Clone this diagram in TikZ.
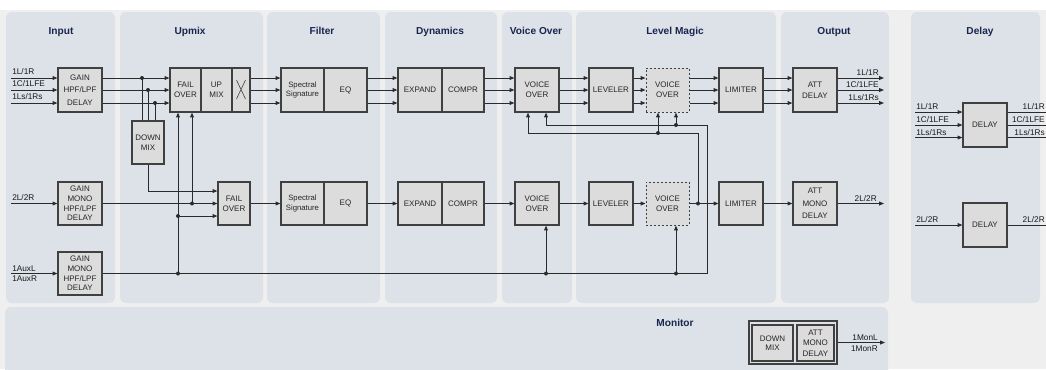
\documentclass[tikz,border=0pt]{standalone}
\usepackage{fontspec}
\setmainfont{Liberation Sans}
\usetikzlibrary{arrows.meta}
\definecolor{bgc}{HTML}{EFEFEF}
\definecolor{panelc}{HTML}{DDE1E8}
\definecolor{blkc}{HTML}{DCDCDC}
\definecolor{ttlc}{HTML}{18264F}
\definecolor{lnc}{HTML}{2A2A2A}
\definecolor{brdc}{HTML}{404040}
\tikzset{
 panel/.style={fill=panelc, rounded corners=4.5pt},
 ttl/.style={font=\fontsize{7.6}{9}\selectfont\bfseries, text=ttlc, inner sep=0pt, anchor=base},
 blk/.style={draw=brdc, fill=blkc, line width=0.85pt, inner sep=0pt, align=center, text=black!85, font=\fontsize{6}{7.2}\selectfont},
 bx/.style 2 args={blk, minimum width=#1*0.75pt, minimum height=#2*0.75pt},
 dsh/.style={dash pattern=on 1.6pt off 1.4pt, line width=0.75pt},
 lbl/.style={font=\fontsize{6.2}{7}\selectfont, inner sep=0pt, text=black!90},
 wire/.style={draw=lnc, line width=0.7pt},
 arr/.style={wire, -{Triangle[length=3.6pt,width=2.8pt]}},
 dot/.style={circle, fill=lnc, inner sep=0pt, minimum size=3pt},
}
\begin{document}
\begin{tikzpicture}[x=0.75pt,y=-0.75pt]
\useasboundingbox (0,0) rectangle (1046,369);
\clip (0,0) rectangle (1046,369);
\fill[white] (0,0) rectangle (1046,369);
\fill[bgc] (0,10) rectangle (1046,369);
% panels
\foreach \a/\b/\c/\d in {6/12/115/303, 120/12/263/303, 267/12/380/303, 385/12/497/303, 502/12/572/303, 576/12/776/303, 781/12/889/303, 911/12/1040/303, 5/307/888/380}
  \fill[panel] (\a,\b) rectangle (\c,\d);
% titles
\node[ttl] (tin) at (61,34) {Input};
\node[ttl] (tup) at (190,34) {Upmix};
\node[ttl] (tfi) at (322,34) {Filter};
\node[ttl] (tdy) at (440,34) {Dynamics};
\node[ttl] (tvo) at (536,34) {Voice Over};
\node[ttl] (tlm) at (675,34) {Level Magic};
\node[ttl] (tou) at (834,34) {Output};
\node[ttl] (tde) at (980,34) {Delay};
\node[ttl] (tmo) at (675,326) {Monitor};
% rows
\coordinate (r1) at (0,78); \coordinate (r2) at (0,90); \coordinate (r3) at (0,103);
\coordinate (s1) at (0,191); \coordinate (s2) at (0,203.5); \coordinate (s3) at (0,216);
% Input
\node[bx={44}{44}] (gin1) at (80,90) {GAIN\\[2.2pt]HPF/LPF\\[2.2pt]DELAY};
\node[bx={44}{43}] (gin2) at (80,203.5) {GAIN\\MONO\\HPF/LPF\\DELAY};
\node[bx={44}{43}] (gin3) at (80,273.5) {GAIN\\MONO\\HPF/LPF\\DELAY};
% Upmix
\node[bx={31}{44}] (fo1) at (185.5,90) {FAIL\\OVER};
\node[bx={31}{44}] (um1) at (216.5,90) {UP\\MIX};
\node[bx={18}{44}] (xx1) at (241,90) {};
\draw[brdc, line width=0.45pt] (236.5,80) -- (245.5,99) (245.5,80) -- (236.5,99);
\node[bx={32}{43}] (dm1) at (148,142.5) {DOWN\\MIX};
\node[bx={32}{43}] (fo2) at (234,203.5) {FAIL\\OVER};
% Filter
\node[bx={43}{44}, font=\fontsize{5.8}{7}\selectfont] (ss1) at (302.5,90) {Spectral\\Signature};
\node[bx={43}{44}] (eq1) at (345.5,90) {EQ};
\node[bx={43}{43}, font=\fontsize{5.8}{7}\selectfont] (ss2) at (302.5,203.5) {Spectral\\Signature};
\node[bx={43}{43}] (eq2) at (345.5,203.5) {EQ};
% Dynamics
\node[bx={44}{44}] (ex1) at (420,90) {EXPAND};
\node[bx={42}{44}] (cp1) at (463,90) {COMPR};
\node[bx={44}{43}] (ex2) at (420,203.5) {EXPAND};
\node[bx={42}{43}] (cp2) at (463,203.5) {COMPR};
% Voice over
\node[bx={44}{44}] (vo1) at (537,90) {VOICE\\[0.4pt]OVER};
\node[bx={44}{43}] (vo2) at (537,203.5) {VOICE\\[0.4pt]OVER};
% Level magic
\node[bx={44}{44}] (lv1) at (611,90) {LEVELER};
\node[bx={44}{43}] (lv2) at (611,203.5) {LEVELER};
\node[bx={43}{44}, dsh] (dv1) at (667.5,90) {VOICE\\[0.4pt]OVER};
\node[bx={43}{43}, dsh] (dv2) at (667.5,203.5) {VOICE\\[0.4pt]OVER};
\node[bx={44}{44}] (lm1) at (741,90) {LIMITER};
\node[bx={44}{43}] (lm2) at (741,203.5) {LIMITER};
% Output
\node[bx={44}{44}] (at1) at (815,90) {ATT\\[1pt]DELAY};
\node[bx={44}{43}] (at2) at (815,203.5) {ATT\\[2pt]MONO\\[2pt]DELAY};
% Delay
\node[bx={44}{44}] (dl1) at (985,125) {DELAY};
\node[bx={44}{44}] (dl2) at (985,225) {DELAY};
% Monitor
\node[bx={88}{43}, fill=panelc] (mon) at (793,342.5) {};
\node[bx={41}{36}] (mdm) at (772.5,343) {DOWN\\MIX};
\node[bx={37}{36}] (mat) at (815.5,343) {ATT\\[0.5pt]MONO\\[0.5pt]DELAY};

% main row connectors
\foreach \a/\b in {gin1/fo1, xx1/ss1, eq1/ex1, cp1/vo1, vo1/lv1, lv1/dv1, dv1/lm1, lm1/at1}
  \foreach \r in {r1,r2,r3}
    \draw[arr] (\a.east |- \r) -- (\b.west |- \r);
\foreach \a/\b in {gin2/fo2, fo2/ss2, eq2/ex2, cp2/vo2, vo2/lv2, lv2/dv2, dv2/lm2, lm2/at2}
  \draw[arr] (\a.east) -- (\b.west);

% inputs
\coordinate (i1) at (11,78); \coordinate (i2) at (11,90); \coordinate (i3) at (11,103);
\coordinate (i4) at (11,203.5); \coordinate (i5) at (11,273.5);
\draw[arr] (i1) -- (gin1.west |- i1);
\draw[arr] (i2) -- (gin1.west |- i2);
\draw[arr] (i3) -- (gin1.west |- i3);
\draw[arr] (i4) -- (gin2.west);
\draw[arr] (i5) -- (gin3.west);
\node[lbl, anchor=base west] (li1) at (12,74.5) {1L/1R};
\node[lbl, anchor=base west] (li2) at (12,86.5) {1C/1LFE};
\node[lbl, anchor=base west] (li3) at (12,99.5) {1Ls/1Rs};
\node[lbl, anchor=base west] (li4) at (12,200) {2L/2R};
\node[lbl, anchor=base west] (li5) at (12,271) {1AuxL};
\node[lbl, anchor=base west] (li6) at (12,281) {1AuxR};

% outputs
\coordinate (o1) at (884,78); \coordinate (o2) at (884,90); \coordinate (o3) at (884,103);
\coordinate (o4) at (884,203.5);
\draw[arr] (at1.east |- o1) -- (o1);
\draw[arr] (at1.east |- o2) -- (o2);
\draw[arr] (at1.east |- o3) -- (o3);
\draw[arr] (at2.east) -- (o4);
\node[lbl, anchor=base east] (lo1) at (879,75.5) {1L/1R};
\node[lbl, anchor=base east] (lo2) at (879,87.5) {1C/1LFE};
\node[lbl, anchor=base east] (lo3) at (879,100.5) {1Ls/1Rs};
\node[lbl, anchor=base east] (lo4) at (877,201) {2L/2R};

% upmix junctions
\node[dot] (j1) at (142,78) {};
\node[dot] (j2) at (148,90) {};
\node[dot] (j3) at (155,103) {};
\draw[wire] (j1.center) -- (j1 |- dm1.north);
\draw[wire] (j2.center) -- (j2 |- dm1.north);
\draw[wire] (j3.center) -- (j3 |- dm1.north);
\draw[arr] (dm1.south) |- (fo2.west |- s1);
\node[dot] (j4) at (192,203.5) {};
\draw[arr] (j4.center) -- (j4 |- fo1.south);
\node[dot] (j5) at (178,216) {};
\node[dot] (j6) at (178,273.5) {};
\draw[arr] (j6.center) -- (j6 |- fo1.south);
\draw[arr] (j5.center) -- (fo2.west |- j5);

% aux line and voice-over keys
\coordinate (a4) at (707,273.5); \coordinate (cB) at (707,125); \coordinate (b1) at (546,125);
\draw[arr] (gin3.east) -- (a4) -- (cB) -- (b1) -- (b1 |- vo1.south);
\node[dot] (k1) at (546,273.5) {};
\draw[arr] (k1.center) -- (k1 |- vo2.south);
\node[dot] (k2) at (676,273.5) {};
\draw[arr] (k2.center) -- (k2 |- dv2.south);
\node[dot] (k3) at (676,125) {};
\draw[arr] (k3.center) -- (k3 |- dv1.south);
\node[dot] (k4) at (698,203.5) {};
\coordinate (cA) at (698,133); \coordinate (a1) at (528,133);
\draw[arr] (k4.center) -- (cA) -- (a1) -- (a1 |- vo1.south);
\node[dot] (k5) at (658,133) {};
\draw[arr] (k5.center) -- (k5 |- dv1.south);

% delay panel
\coordinate (e1) at (915,112); \coordinate (e2) at (915,125); \coordinate (e3) at (915,137.5);
\coordinate (e4) at (915,225);
\coordinate (f1) at (1046,112); \coordinate (f2) at (1046,125); \coordinate (f3) at (1046,137.5);
\coordinate (f4) at (1046,225);
\draw[arr] (e1) -- (dl1.west |- e1);
\draw[arr] (e2) -- (dl1.west |- e2);
\draw[arr] (e3) -- (dl1.west |- e3);
\draw[arr] (e4) -- (dl2.west);
\draw[wire] (dl1.east |- f1) -- (f1);
\draw[wire] (dl1.east |- f2) -- (f2);
\draw[wire] (dl1.east |- f3) -- (f3);
\draw[wire] (dl2.east) -- (f4);
\node[lbl, anchor=base west] (ld1) at (916,109.5) {1L/1R};
\node[lbl, anchor=base west] (ld2) at (916,122.5) {1C/1LFE};
\node[lbl, anchor=base west] (ld3) at (916,135) {1Ls/1Rs};
\node[lbl, anchor=base west] (ld4) at (916,222.5) {2L/2R};
\node[lbl, anchor=base east] (rd1) at (1045,109.5) {1L/1R};
\node[lbl, anchor=base east] (rd2) at (1045,122.5) {1C/1LFE};
\node[lbl, anchor=base east] (rd3) at (1045,135) {1Ls/1Rs};
\node[lbl, anchor=base east] (rd4) at (1045,222.5) {2L/2R};

% monitor output
\coordinate (mo) at (885,342.5);
\draw[arr] (mon.east) -- (mo);
\node[lbl, anchor=base east] (lm5) at (878,340.5) {1MonL};
\node[lbl, anchor=base east] (lm6) at (878,351.5) {1MonR};
\end{tikzpicture}
\end{document}
